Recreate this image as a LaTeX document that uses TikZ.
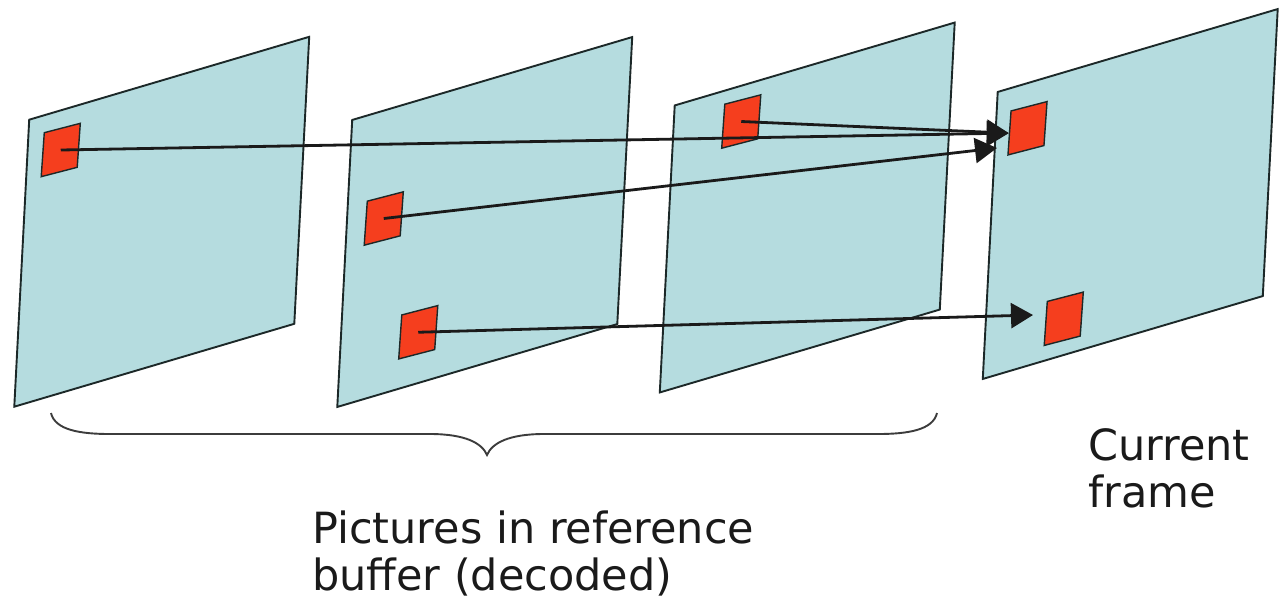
\documentclass[tikz,border=0pt]{standalone}
\usepackage{fontspec}
\setmainfont{DejaVu Sans}
\usetikzlibrary{arrows.meta}
\definecolor{ink}{HTML}{1A1A1A}
\definecolor{edge}{HTML}{1C2828}
\definecolor{glass}{HTML}{B5DCDF}
\definecolor{mb}{HTML}{F53E1E}

\begin{document}
\begin{tikzpicture}[
  x=1pt,
  y=-1pt,
  >={Triangle[length=22pt,width=25pt]},
  picframe/.style={draw=edge, line width=1.9pt, fill=glass, inner sep=0pt,
                   minimum width=280pt, minimum height=287pt,
                   cm={1,0.296,0.052,1,(0,0)}},
  mblock/.style={draw=edge, line width=1.4pt, fill=mb, inner sep=0pt,
                 minimum width=36pt, minimum height=44pt,
                 cm={1,0.26,0.07,1,(0,0)}},
  motion/.style={->, line width=2.8pt, color=ink},
  curly/.style={line width=1.9pt, color=ink!85},
  caption/.style={font=\fontsize{43}{47}\selectfont, text=ink, align=left,
                  inner sep=0pt, anchor=base west},
]
\useasboundingbox (0,0) rectangle (1280,598);

% reference pictures, then the current frame
\node[picframe] (ref1) at (161.75,221.75) {};
\node[picframe] (ref2) at (484.75,222) {};
\node[picframe] (ref3) at (807.25,207.5) {};
\node[picframe] (cur) at (1130.25,194) {};

% macroblocks
\node[mblock] (a1) at (60.75,150) {};
\node[mblock] (b1) at (383.75,218.5) {};
\node[mblock] (b2) at (418.25,332.25) {};
\node[mblock] (c1) at (741.25,121.5) {};
\node[mblock] (d1) at (1027.5,128.25) {};
\node[mblock] (d2) at (1063.75,318.75) {};

% motion vectors into the current frame
\coordinate (hitb) at (997,148);
\coordinate (hitd) at (1033,315);
\draw[motion] (a1.center) -- (d1.west);
\draw[motion] (c1.center) -- (d1.west);
\draw[motion] (b1.center) -- (hitb);
\draw[motion] (b2.center) -- (hitd);

% brace under the reference buffer
\draw[curly] (51,413) .. controls (55,430) and (80,434) .. (110,434)
  -- (430,434) .. controls (465,434) and (482,443) .. (487,455)
  .. controls (492,443) and (509,434) .. (544,434)
  -- (878,434) .. controls (908,434) and (933,430) .. (937,413);

% base anchor sits on the last line
\node[caption] (buffer) at (312,590) {Pictures in reference\\buffer (decoded)};
\node[caption] (current) at (1088,507) {Current\\frame};

\end{tikzpicture}
\end{document}
